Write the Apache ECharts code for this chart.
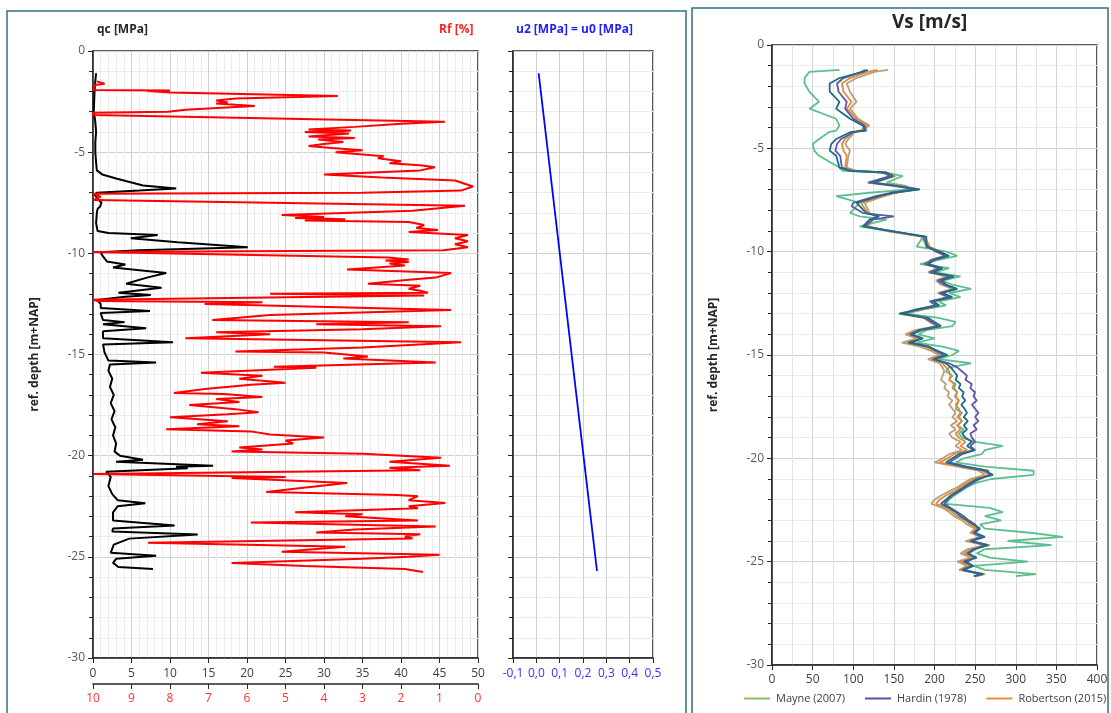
<!DOCTYPE html>
<html><head><meta charset="utf-8">
<script src="https://cdn.jsdelivr.net/npm/echarts@6/dist/echarts.min.js"></script>
<style>html,body{margin:0;padding:0;background:#fff}#c{width:1111px;height:713px}</style>
</head><body><div id="c"></div>
<script>
// ---- CPT data (depth in m+NAP) ----
const QC_DEPTH = [-1.1,-1.5,-2.0,-3.0,-3.5,-4.0,-4.5,-5.0,-5.5,-5.9,-6.1,-6.3,-6.5,-6.65,-6.8,-6.9,-7.0,-7.1,-7.3,-7.5,-7.7,-7.8,-8.0,-8.5,-8.9,-9.0,-9.1,-9.25,-9.45,-9.7,-9.85,-9.95,-10.1,-10.4,-10.55,-10.7,-10.97,-11.2,-11.5,-11.7,-11.95,-12.06,-12.15,-12.3,-12.5,-12.7,-12.85,-12.95,-13.3,-13.4,-13.5,-13.7,-13.85,-14.2,-14.4,-14.5,-14.9,-15.3,-15.4,-15.5,-15.8,-16.2,-16.6,-17.0,-17.4,-17.8,-18.2,-18.6,-19.0,-19.4,-19.8,-20.0,-20.2,-20.3,-20.5,-20.55,-20.62,-20.8,-20.9,-21.05,-21.5,-21.9,-22.2,-22.35,-22.5,-22.8,-23.2,-23.45,-23.6,-23.75,-23.9,-24.1,-24.4,-24.8,-24.95,-25.1,-25.3,-25.5,-25.6];
const QC_VAL = [0.4,0.3,0.2,0.1,0.3,0.4,0.3,0.3,0.4,0.5,1.2,3.0,5.0,6.5,10.8,6.0,0.5,0.2,0.6,1.1,0.9,0.6,0.5,0.4,0.6,2.0,8.4,4.9,11,20.1,6,1.0,1.2,1.8,4.2,2.6,9.5,7,4.3,8.9,3.3,7.5,4.2,0.5,1.0,1.0,7.4,1.0,1.3,4.1,1.3,6.9,1.3,1.3,10.4,1.3,1.5,2.0,8.2,2.2,2.0,2.5,2.2,2.7,2.3,2.8,2.4,2.9,2.6,3.0,2.8,3.5,6.5,3.0,15.6,10.8,12.3,1.7,2.0,2.3,2.0,2.5,3.2,6.8,3.2,2.6,2.6,10.6,2.6,2.5,13.6,4.7,2.7,2.3,8.2,3.0,2.6,3.3,7.8];

const RF_DEPTH = [-1.5,-1.62,-1.68,-1.93,-1.95,-1.98,-2.05,-2.22,-2.35,-2.45,-2.55,-2.6,-2.72,-2.9,-3.0,-3.05,-3.16,-3.5,-3.6,-3.75,-3.88,-3.93,-3.97,-4.0,-4.08,-4.23,-4.3,-4.38,-4.5,-4.6,-4.7,-4.8,-4.9,-5.0,-5.2,-5.3,-5.45,-5.55,-5.65,-5.75,-5.9,-6.1,-6.25,-6.4,-6.7,-6.9,-7.0,-7.05,-7.2,-7.37,-7.65,-7.9,-8.1,-8.2,-8.25,-8.32,-8.38,-8.45,-8.6,-8.75,-8.85,-8.95,-9.1,-9.25,-9.4,-9.55,-9.7,-9.85,-9.93,-10.0,-10.2,-10.3,-10.35,-10.43,-10.5,-10.6,-10.8,-10.97,-11.2,-11.3,-11.5,-11.6,-11.75,-11.85,-11.95,-12.0,-12.08,-12.3,-12.35,-12.42,-12.5,-12.8,-13.05,-13.3,-13.4,-13.5,-13.6,-13.75,-13.9,-14.0,-14.2,-14.4,-14.65,-14.85,-14.9,-15.1,-15.2,-15.4,-15.6,-15.65,-15.9,-16.05,-16.2,-16.4,-16.5,-16.7,-16.9,-16.95,-17.1,-17.2,-17.35,-17.5,-17.7,-17.85,-17.95,-18.1,-18.3,-18.45,-18.55,-18.7,-18.8,-18.95,-19.1,-19.25,-19.4,-19.6,-19.7,-19.8,-19.9,-20.1,-20.3,-20.5,-20.6,-20.72,-20.9,-21.05,-21.1,-21.35,-21.6,-21.8,-21.95,-22.0,-22.2,-22.34,-22.5,-22.6,-22.8,-22.9,-23.0,-23.2,-23.3,-23.5,-23.65,-23.8,-23.88,-24.0,-24.1,-24.3,-24.5,-24.75,-24.9,-25.0,-25.1,-25.3,-25.45,-25.6,-25.75];
const RF_VAL = [9.9,9.7,9.95,10,8.0,8.6,8.0,3.64,6.3,6.8,6.5,6.8,5.8,7.6,8.05,10,10,0.86,2.0,3.2,4.4,3.3,3.5,4.5,3.35,4.4,3.2,4.15,3.5,4.0,4.4,3.8,3.0,3.7,2.45,2.6,2.0,2.3,1.5,1.12,1.5,4.0,2.5,0.6,0.13,0.44,3.0,10,9.8,10,0.34,1.7,5.1,4.0,4.75,3.45,4.5,1.8,1.4,1.6,1.04,1.8,0.26,0.6,0.26,0.6,0.26,0.9,10,10,2.34,1.8,2.4,1.8,2.3,1.9,3.4,0.7,1.1,1.8,2.86,1.5,1.8,1.5,1.3,5.4,1.4,10,9.9,5.6,7.1,0.7,5.4,6.9,1.8,4.2,0.96,3.0,6.8,5.4,7.6,0.44,3.0,6.3,4.0,2.86,3.5,1.1,5.3,4.2,7.2,5.6,6.2,5.0,5.9,7.1,7.9,6.6,5.6,6.8,6.2,7.5,6.3,5.7,6.5,8.0,6.5,7.3,6.2,8.1,5.9,5.4,4.0,5.0,4.8,6.2,5.6,6.4,3.0,0.96,2.3,0.73,2.3,1.5,10,5.0,6.4,3.4,4.6,5.5,2.1,1.56,1.8,0.85,1.8,1.56,4.75,3.0,3.45,1.56,5.9,1.1,3.2,4.2,1.5,1.9,1.7,8.57,3.45,5.1,1.0,1.8,3.0,6.4,4.5,1.9,1.43];

const U_DEPTH = [-1.1,-25.7];
const U_VAL = [0.01,0.26];

// ---- Vs data ----
const VS_DEPTH = [-1.2,-1.3,-1.6,-1.86,-2.26,-2.75,-3.08,-3.57,-3.9,-4.14,-4.22,-4.55,-4.79,-5.11,-5.36,-5.93,-6.09,-6.17,-6.34,-6.66,-6.82,-6.99,-7.15,-7.31,-7.64,-7.8,-8.13,-8.29,-8.45,-8.78,-9.02,-9.27,-9.76,
  -10.0,-10.2,-10.4,-10.6,-10.8,-11.0,-11.2,-11.4,-11.6,-11.8,-12.0,-12.2,-12.4,-12.6,-12.8,-13.0,-13.2,-13.4,-13.6,-13.8,-14.0,-14.2,-14.4,-14.6,-14.8,-15.0,-15.2,-15.4,-15.6,-15.8,-16.0,-16.2,-16.4,-16.6,-16.8,-17.0,-17.2,-17.4,-17.6,-17.8,-18.0,-18.2,-18.4,-18.6,-18.8,-19.0,-19.2,-19.4,-19.6,-19.8,-20.0,-20.2,-20.4,-20.6,-20.8,-21.0,-21.2,-21.4,-21.6,-21.8,-22.0,-22.2,-22.4,-22.6,-22.8,-23.0,-23.2,-23.4,-23.6,-23.8,-24.0,-24.2,-24.4,-24.6,-24.8,-25.0,-25.2,-25.4,-25.6,-25.7];
const VS_MAYNE = [83,46,40,40,46,58,46,79,83,79,70,58,50,52,58,83,87,141,161,141,165,170,120,79,108,104,96,108,141,108,145,186,178,
  215,228,205,182,218,200,232,210,222,245,218,232,205,214,186,165,205,226,222,190,180,200,178,210,230,222,205,245,218,214,222,218,226,224,228,225,230,228,226,234,230,234,228,236,230,234,250,284,262,258,236,226,262,322,322,270,250,240,232,224,218,214,268,284,262,282,256,262,318,358,290,344,262,252,268,315,248,262,325,300];
const VS_HARDIN = [115,110,88,80,82,92,90,100,114,116,100,85,80,78,84,86,98,136,145,118,150,176,146,128,100,98,112,150,124,114,150,186,192,
  202,214,196,188,206,194,220,204,212,226,206,218,194,202,176,162,188,196,204,180,170,184,172,194,202,212,198,218,228,234,240,238,246,244,250,248,252,246,250,254,250,254,248,252,244,246,250,244,250,234,226,218,240,266,268,256,246,238,230,222,216,212,220,228,236,242,250,254,248,258,244,262,250,242,250,240,246,234,256,250];
const VS_ROBERTSON = [130,118,96,86,88,98,92,104,118,110,100,90,86,88,92,90,100,140,150,122,158,180,150,136,110,112,118,130,122,116,146,188,194,
  208,216,198,194,208,196,218,206,212,226,208,220,200,204,182,160,190,198,206,182,168,182,166,188,200,210,196,210,214,218,220,218,224,222,228,226,230,226,230,232,228,234,228,232,226,230,238,232,240,224,216,206,232,258,268,248,240,232,224,214,206,202,214,222,228,238,244,252,246,260,242,268,244,236,248,232,244,232,262,250];
const VS_TAN = [143,126,104,92,96,104,96,106,120,108,102,94,90,96,94,92,104,138,152,126,160,178,152,138,114,116,120,128,124,118,144,184,190,
  204,212,196,190,204,192,214,202,208,222,204,216,196,200,178,156,186,194,202,176,164,178,160,182,196,206,192,206,210,212,210,208,214,212,218,216,222,218,222,226,222,228,220,226,218,222,232,226,234,218,210,200,228,254,262,244,236,228,218,208,200,196,210,218,224,234,240,250,244,256,238,262,240,232,244,228,240,230,258,254];
const VS_TEAL = [118,112,83,71,71,83,79,96,112,114,96,79,73,71,79,83,96,141,149,124,153,182,149,132,104,108,116,132,120,112,149,190,190,
  206,218,200,192,210,198,224,208,215,228,210,222,198,206,180,157,192,200,208,184,172,186,168,192,204,216,200,214,220,224,228,226,232,230,236,234,238,233,237,240,236,241,236,240,234,238,246,240,248,230,222,214,236,262,272,252,244,236,228,220,214,208,218,226,232,240,248,256,250,262,246,266,248,240,252,236,248,236,260,248];

const LEGEND_NAMES = ['Mayne (2007)', 'Hardin (1978)', 'Robertson (2015)'];

const pairs = (xs, ys) => xs.map((v, i) => [v, ys[i]]);

const FONT = '"Open Sans", "Noto Sans", sans-serif';
const chart = echarts.init(document.getElementById('c'), null, {renderer: 'canvas'});

const axLine = {show: true, onZero: false, lineStyle: {color: '#262626', width: 1.5}};
const tick = {show: true, length: 5, inside: false, lineStyle: {color: '#262626', width: 1}};
const depthAxis = (gi, showLabel, name) => ({
  type: 'value', gridIndex: gi, min: -30, max: 0, interval: 5,
  axisLine: axLine, axisTick: tick,
  minorTick: {show: true, splitNumber: 5, length: 4, lineStyle: {color: '#262626'}},
  splitLine: {show: true, lineStyle: {color: '#d0d0d0', width: 1}},
  minorSplitLine: {show: true, lineStyle: {color: '#ececec', width: 1}},
  axisLabel: {show: showLabel, color: '#595959', fontSize: 12, fontFamily: FONT, margin: 8},
  name: name, nameLocation: 'middle', nameGap: 52, nameRotate: 90,
  nameTextStyle: {fontWeight: 'bold', fontSize: 12, color: '#262626', fontFamily: FONT}
});

const vsLine = (name, data, color, z) => ({
  type: 'line', name: name, xAxisIndex: 3, yAxisIndex: 2, data: data,
  showSymbol: false, symbol: 'none', lineStyle: {color: color, width: 1.8}, itemStyle: {color: color},
  z: z, animation: false
});

const option = {
  animation: false,
  backgroundColor: '#ffffff',
  textStyle: {fontFamily: FONT},
  grid: [
    {left: 93, top: 51, width: 385, height: 607, show: true, borderColor: '#262626', borderWidth: 1.5, backgroundColor: 'transparent'},
    {left: 513, top: 51, width: 140, height: 607, show: true, borderColor: '#262626', borderWidth: 1.5, backgroundColor: 'transparent'},
    {left: 772, top: 45, width: 325, height: 620, show: true, borderColor: '#262626', borderWidth: 1.5, backgroundColor: 'transparent'}
  ],
  xAxis: [
    {type: 'value', gridIndex: 0, min: 0, max: 50, interval: 5, position: 'bottom',
     axisLine: axLine, axisTick: tick,
     splitLine: {show: true, lineStyle: {color: '#d0d0d0'}},
     minorTick: {show: false, splitNumber: 5},
     minorSplitLine: {show: true, lineStyle: {color: '#ececec'}},
     axisLabel: {color: '#404040', fontSize: 12, fontFamily: FONT, margin: 10}},
    {type: 'value', gridIndex: 0, min: 0, max: 10, interval: 1, inverse: true, position: 'bottom', offset: 26,
     axisLine: axLine, axisTick: tick, splitLine: {show: false},
     axisLabel: {color: '#ff3333', fontSize: 12, fontFamily: FONT, margin: 9}},
    {type: 'value', gridIndex: 1, min: -0.1, max: 0.5, interval: 0.1, position: 'bottom',
     axisLine: axLine, axisTick: tick,
     splitLine: {show: true, lineStyle: {color: '#d0d0d0'}},
     axisLabel: {color: '#3333ff', fontSize: 12, fontFamily: FONT, margin: 10,
       formatter: v => v.toFixed(1).replace('.', ',')}},
    {type: 'value', gridIndex: 2, min: 0, max: 400, interval: 50, position: 'bottom',
     axisLine: axLine, axisTick: tick,
     splitLine: {show: true, lineStyle: {color: '#d6d6d6'}},
     minorTick: {show: false, splitNumber: 2},
     minorSplitLine: {show: true, lineStyle: {color: '#e4e4e4'}},
     axisLabel: {color: '#404040', fontSize: 12, fontFamily: FONT, margin: 9}}
  ],
  yAxis: [
    depthAxis(0, true, 'ref. depth [m+NAP]'),
    depthAxis(1, false, ''),
    depthAxis(2, true, 'ref. depth [m+NAP]')
  ],
  legend: {
    data: [
      {name: LEGEND_NAMES[0], itemStyle: {color: '#8fbf5f'}},
      {name: LEGEND_NAMES[1], itemStyle: {color: '#5f4b9b'}},
      {name: LEGEND_NAMES[2], itemStyle: {color: '#ec8a3a'}}
    ],
    left: 744, top: 693, width: 420, padding: 0, icon: 'rect', itemWidth: 26, itemHeight: 2, itemGap: 20,
    textStyle: {fontSize: 11, color: '#404040', fontFamily: FONT, padding: [0, 0, 0, 1]}
  },
  series: [
    {type: 'line', name: 'qc', xAxisIndex: 0, yAxisIndex: 0, data: pairs(QC_VAL, QC_DEPTH),
     showSymbol: false, symbol: 'none', lineStyle: {color: '#000000', width: 2}, z: 3},
    {type: 'line', name: 'Rf', xAxisIndex: 1, yAxisIndex: 0, data: pairs(RF_VAL, RF_DEPTH),
     showSymbol: false, symbol: 'none', lineStyle: {color: '#ff0000', width: 2}, z: 4},
    {type: 'line', name: 'u2', xAxisIndex: 2, yAxisIndex: 1, data: pairs(U_VAL, U_DEPTH),
     showSymbol: false, symbol: 'none', lineStyle: {color: '#0000ff', width: 1.8}, z: 3},
    vsLine(LEGEND_NAMES[0], pairs(VS_MAYNE, VS_DEPTH), '#5cbf8e', 3),
    vsLine('Tan', pairs(VS_TAN, VS_DEPTH), '#b5a27a', 4),
    vsLine(LEGEND_NAMES[2], pairs(VS_ROBERTSON, VS_DEPTH), '#e5893b', 5),
    vsLine(LEGEND_NAMES[1], pairs(VS_HARDIN, VS_DEPTH), '#5c5aa3', 6),
    vsLine('Teal', pairs(VS_TEAL, VS_DEPTH), '#1f6b88', 7)
  ],
  graphic: [
    {type: 'rect', shape: {x: 7, y: 11, width: 679, height: 712}, style: {fill: 'none', stroke: '#2d7283', lineWidth: 1.5}, silent: true},
    {type: 'rect', shape: {x: 692, y: 8, width: 416, height: 715}, style: {fill: 'none', stroke: '#2d7283', lineWidth: 1.5}, silent: true},
    {type: 'text', left: 97, top: 24, style: {text: 'qc [MPa]', fill: '#262626', font: 'bold 12px ' + FONT}},
    {type: 'text', left: 439, top: 24, style: {text: 'Rf [%]', fill: '#ff2020', font: 'bold 12px ' + FONT}},
    {type: 'text', left: 516, top: 24, style: {text: 'u2 [MPa] = u0 [MPa]', fill: '#2020ff', font: 'bold 12px ' + FONT}},
    {type: 'text', left: 892, top: 13, style: {text: 'Vs [m/s]', fill: '#262626', font: 'bold 19px ' + FONT}}
  ]
};
chart.setOption(option);
</script></body></html>
